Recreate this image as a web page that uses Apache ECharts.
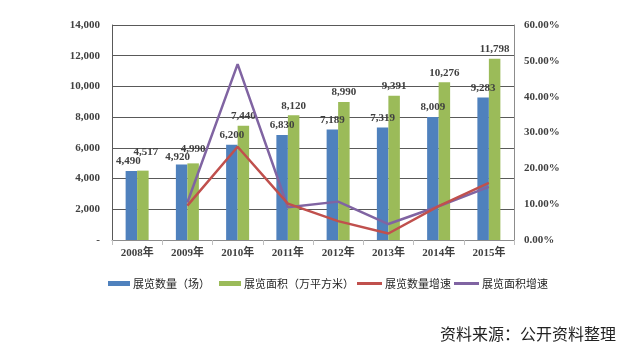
<!DOCTYPE html>
<html><head><meta charset="utf-8">
<script src="https://cdn.jsdelivr.net/npm/echarts@6/dist/echarts.min.js"></script>
<style>html,body{margin:0;padding:0;background:#fff}#c{width:631px;height:363px}</style>
</head><body><div id="c"></div>
<script>
var categories = ['2008年','2009年','2010年','2011年','2012年','2013年','2014年','2015年'];
var exhibitionCount = [4490, 4920, 6200, 6830, 7189, 7319, 8009, 9283];
var exhibitionArea = [4517, 4990, 7440, 8120, 8990, 9391, 10276, 11798];
var countGrowth = [null, 9.58, 26.02, 10.16, 5.26, 1.81, 9.43, 15.91];
var areaGrowth = [null, 10.47, 49.10, 9.14, 10.71, 4.46, 9.42, 14.81];
var seriesNames = ['展览数量（场）','展览面积（万平方米）','展览数量增速','展览面积增速'];
var sourceText = '资料来源：公开资料整理';
// label nudges (pixels) used in the original to avoid overlapping labels
var countLabelNudge = [[-3,0],[-4,2]];
var areaLabelNudge = [[3,-9],[0,-5]];

var serif = '"Liberation Serif","Times New Roman","Noto Sans CJK SC",serif';
var labelStyle = {show:true, position:'top', distance:4, fontFamily:serif, fontWeight:'bold', fontSize:11, color:'#404040',
  formatter:function(p){return p.value.toLocaleString('en-US');}};

function withNudge(values, nudges){
  return values.map(function(v,i){
    var n = nudges[i];
    return n ? {value:v, label:{offset:n}} : v;
  });
}

var legendText = {fontFamily:'"Noto Sans CJK SC",sans-serif', fontSize:11, color:'#262626', padding:[0,0,0,-2]};

var chart = echarts.init(document.getElementById('c'), null, {renderer:'canvas'});
chart.setOption({
  animation:false,
  grid:{left:112, right:117, top:25, bottom:123},
  legend:[
    {data:[seriesNames[0], seriesNames[1]], left:103, top:273, icon:'rect', itemWidth:22, itemHeight:5, itemGap:9, textStyle:legendText},
    {data:[seriesNames[2], seriesNames[3]], left:352, top:273, icon:'rect', itemWidth:25, itemHeight:3, itemGap:3, textStyle:legendText}
  ],
  graphic:[{type:'text', left:440, top:326, style:{text:sourceText, font:'16px "Noto Sans CJK SC", sans-serif', fill:'#222'}}],
  xAxis:{
    type:'category', data:categories,
    axisLine:{lineStyle:{color:'#8c8c8c'}},
    axisTick:{show:true, length:5, lineStyle:{color:'#bfbfbf'}},
    axisLabel:{fontFamily:serif, fontWeight:'bold', fontSize:11, color:'#404040', margin:8}
  },
  yAxis:[{
    type:'value', min:0, max:14000, interval:2000,
    axisLine:{show:true, lineStyle:{color:'#595959'}},
    axisTick:{show:false},
    splitLine:{lineStyle:{color:'#595959', width:1}},
    axisLabel:{fontFamily:serif, fontWeight:'bold', fontSize:11, color:'#404040', margin:12,
      formatter:function(v){return v===0?'-':v.toLocaleString('en-US');}}
  },{
    type:'value', min:0, max:60, interval:10,
    axisLine:{show:true, lineStyle:{color:'#8c8c8c'}},
    axisTick:{show:false},
    splitLine:{show:false},
    axisLabel:{fontFamily:serif, fontWeight:'bold', fontSize:11, color:'#404040', margin:10,
      formatter:function(v){return v.toFixed(2)+'%';}}
  }],
  series:[
    {name:seriesNames[0], type:'bar', data:withNudge(exhibitionCount, countLabelNudge), barWidth:11.5, barGap:'0%', itemStyle:{color:'#4F81BD'}, label:labelStyle},
    {name:seriesNames[1], type:'bar', data:withNudge(exhibitionArea, areaLabelNudge), barWidth:11.5, itemStyle:{color:'#9BBB59'}, label:labelStyle},
    {name:seriesNames[2], type:'line', yAxisIndex:1, data:countGrowth, symbol:'none', lineStyle:{color:'#C0504D', width:2.5}, itemStyle:{color:'#C0504D'}, z:5},
    {name:seriesNames[3], type:'line', yAxisIndex:1, data:areaGrowth, symbol:'none', lineStyle:{color:'#8064A2', width:2.5}, itemStyle:{color:'#8064A2'}, z:4}
  ]
});
</script></body></html>
